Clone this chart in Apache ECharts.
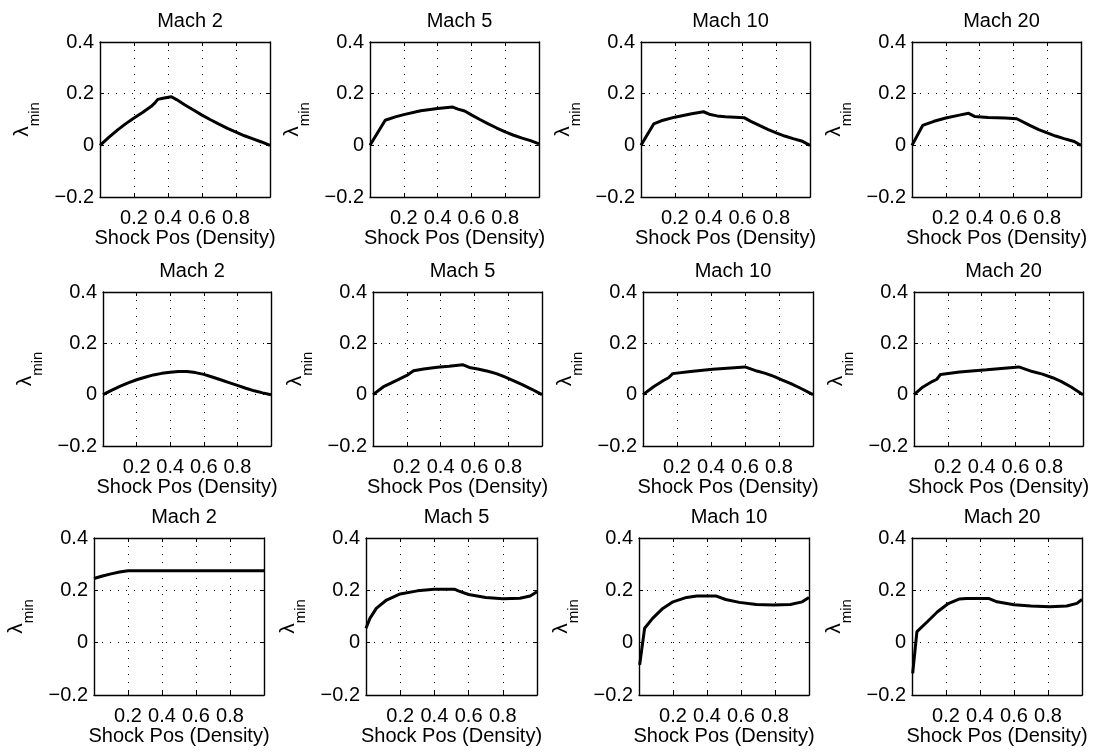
<!DOCTYPE html>
<html><head><meta charset="utf-8">
<script src="https://cdn.jsdelivr.net/npm/echarts@6/dist/echarts.min.js"></script>
<style>html,body{margin:0;padding:0;background:#fff}#c{width:1098px;height:753px}</style>
</head><body><div id="c"></div>
<script>
// ---- data ----
const machTitles = ['Mach 2', 'Mach 5', 'Mach 10', 'Mach 20'];
const xTickValues = [0.2, 0.4, 0.6, 0.8];
const yTickValues = [-0.2, 0, 0.2, 0.4];
const xAxisTitle = 'Shock Pos (Density)';

// Row 1
const r1m2x = [0, 0.05, 0.1, 0.15, 0.2, 0.25, 0.3, 0.32, 0.34, 0.37, 0.42, 0.45, 0.5, 0.55, 0.6, 0.65, 0.7, 0.75, 0.8, 0.85, 0.9, 0.95, 1.0];
const r1m2y = [0, 0.03, 0.058, 0.083, 0.106, 0.127, 0.15, 0.162, 0.178, 0.182, 0.188, 0.177, 0.156, 0.137, 0.117, 0.099, 0.082, 0.066, 0.051, 0.037, 0.025, 0.013, 0.0];
const r1m5x = [0, 0.09, 0.15, 0.2, 0.3, 0.4, 0.49, 0.52, 0.56, 0.6, 0.65, 0.7, 0.75, 0.8, 0.85, 0.9, 0.95, 1.0];
const r1m5y = [0, 0.097, 0.11, 0.119, 0.134, 0.143, 0.148, 0.14, 0.133, 0.118, 0.1, 0.083, 0.067, 0.052, 0.039, 0.028, 0.018, 0.006];
const r1m10x = [0, 0.075, 0.12, 0.2, 0.3, 0.37, 0.41, 0.45, 0.5, 0.61, 0.65, 0.7, 0.75, 0.8, 0.85, 0.9, 0.95, 1.0];
const r1m10y = [0, 0.083, 0.095, 0.109, 0.122, 0.13, 0.119, 0.114, 0.111, 0.107, 0.093, 0.077, 0.062, 0.048, 0.036, 0.026, 0.017, 0.0];
const r1m20x = [0, 0.063, 0.13, 0.2, 0.28, 0.335, 0.37, 0.45, 0.55, 0.62, 0.7, 0.75, 0.8, 0.85, 0.9, 0.96, 1.0];
const r1m20y = [0, 0.077, 0.093, 0.106, 0.117, 0.124, 0.112, 0.108, 0.106, 0.103, 0.076, 0.061, 0.048, 0.036, 0.026, 0.015, 0.0];

// Row 2
const r2m2x = [0, 0.05, 0.1, 0.15, 0.2, 0.25, 0.3, 0.35, 0.4, 0.45, 0.5, 0.55, 0.6, 0.65, 0.7, 0.75, 0.8, 0.85, 0.9, 0.95, 1.0];
const r2m2y = [0, 0.017, 0.032, 0.046, 0.058, 0.068, 0.077, 0.083, 0.087, 0.09, 0.09, 0.086, 0.079, 0.069, 0.058, 0.047, 0.036, 0.025, 0.015, 0.007, 0];
const r2m5x = [0, 0.06, 0.14, 0.2, 0.24, 0.3, 0.38, 0.45, 0.53, 0.57, 0.62, 0.68, 0.73, 0.78, 0.83, 0.88, 0.94, 1.0];
const r2m5y = [0, 0.03, 0.056, 0.075, 0.093, 0.1, 0.107, 0.111, 0.117, 0.106, 0.1, 0.091, 0.082, 0.069, 0.055, 0.04, 0.021, 0];
const r2m10x = [0, 0.06, 0.12, 0.15, 0.175, 0.28, 0.41, 0.6, 0.67, 0.72, 0.77, 0.82, 0.87, 0.93, 1.0];
const r2m10y = [0, 0.03, 0.055, 0.066, 0.082, 0.09, 0.099, 0.108, 0.092, 0.083, 0.071, 0.057, 0.043, 0.024, 0];
const r2m20x = [0, 0.053, 0.11, 0.135, 0.157, 0.27, 0.43, 0.62, 0.7, 0.76, 0.82, 0.87, 0.93, 1.0];
const r2m20y = [0, 0.03, 0.052, 0.06, 0.079, 0.088, 0.097, 0.108, 0.09, 0.08, 0.066, 0.052, 0.03, 0];

// Row 3
const r3m2x = [0, 0.05, 0.1, 0.15, 0.2, 0.4, 0.6, 0.8, 1.0];
const r3m2y = [0.245, 0.255, 0.263, 0.27, 0.275, 0.275, 0.275, 0.275, 0.275];
const r3m5x = [0, 0.023, 0.06, 0.12, 0.2, 0.3, 0.4, 0.52, 0.54, 0.6, 0.7, 0.8, 0.9, 0.96, 1.0];
const r3m5y = [0.055, 0.093, 0.131, 0.163, 0.186, 0.198, 0.204, 0.204, 0.198, 0.184, 0.173, 0.168, 0.17, 0.178, 0.195];
const r3m10x = [0.004, 0.033, 0.08, 0.14, 0.2, 0.28, 0.34, 0.455, 0.51, 0.59, 0.69, 0.79, 0.89, 0.96, 1.0];
const r3m10y = [-0.085, 0.055, 0.093, 0.131, 0.156, 0.173, 0.178, 0.178, 0.165, 0.154, 0.146, 0.144, 0.146, 0.156, 0.173];
const r3m20x = [0.004, 0.029, 0.09, 0.15, 0.21, 0.28, 0.32, 0.45, 0.5, 0.6, 0.7, 0.81, 0.91, 0.97, 1.0];
const r3m20y = [-0.117, 0.042, 0.08, 0.118, 0.148, 0.167, 0.169, 0.169, 0.156, 0.145, 0.14, 0.137, 0.14, 0.15, 0.165];

const panelData = [
  [r1m2x, r1m2y], [r1m5x, r1m5y], [r1m10x, r1m10y], [r1m20x, r1m20y],
  [r2m2x, r2m2y], [r2m5x, r2m5y], [r2m10x, r2m10y], [r2m20x, r2m20y],
  [r3m2x, r3m2y], [r3m5x, r3m5y], [r3m10x, r3m10y], [r3m20x, r3m20y]
];

// ---- layout (pixels) ----
const rowTop = [42, 292, 538];
const rowBottom = [197, 446, 695];
const colLeft = [[100, 370, 641, 912], [103, 373, 643, 914], [94, 366, 639, 912]];
const colRight = [[270, 539, 810, 1081], [271, 542, 813, 1083], [264, 537, 809, 1082]];

const FONT = "'Liberation Sans', Helvetica, Arial, sans-serif";
const FS = 20;
const AXIS_LINE = { show: true, onZero: false, lineStyle: { color: '#000', width: 1.4 } };
const GRID_LINE = { show: true, lineStyle: { color: '#000', type: [1, 7], width: 1 } };
const TICK = { show: true, inside: true, length: 4, lineStyle: { color: '#000' } };

const grids = [], xAxes = [], yAxes = [], xTop = [], yRight = [], series = [], titles = [];
for (let r = 0; r < 3; r++) {
  for (let c = 0; c < 4; c++) {
    const i = r * 4 + c;
    const left = colLeft[r][c], right = colRight[r][c];
    const top = rowTop[r], bottom = rowBottom[r];
    grids.push({ left: left, top: top, width: right - left, height: bottom - top, containLabel: false });
    xAxes.push({
      type: 'value', gridIndex: i, position: 'bottom', min: 0, max: 1, interval: 0.2,
      name: xAxisTitle, nameLocation: 'middle', nameGap: 31,
      nameTextStyle: { fontFamily: FONT, fontSize: FS, color: '#000' },
      axisLine: AXIS_LINE, axisTick: TICK,
      axisLabel: { fontFamily: FONT, fontSize: FS, color: '#000', margin: 11,
        formatter: v => (xTickValues.some(t => Math.abs(t - v) < 1e-6) ? v.toFixed(1) : '') },
      splitLine: GRID_LINE
    });
    yAxes.push({
      type: 'value', gridIndex: i, position: 'left', min: -0.2, max: 0.4, interval: 0.2,
      name: '{l|λ}{s|min}', nameLocation: 'middle', nameGap: 58,
      nameTextStyle: { fontFamily: FONT, color: '#000',
        rich: { l: { fontFamily: FONT, fontSize: 21, color: '#000', lineHeight: 30, verticalAlign: 'top' },
                s: { fontFamily: FONT, fontSize: 15, color: '#000', lineHeight: 30, verticalAlign: 'bottom' } } },
      axisLine: AXIS_LINE, axisTick: TICK,
      axisLabel: { fontFamily: FONT, fontSize: FS, color: '#000', margin: 6,
        formatter: v => {
          if (!yTickValues.some(t => Math.abs(t - v) < 1e-6)) return '';
          if (Math.abs(v) < 1e-9) return '0';
          return v < 0 ? '\u2212' + Math.abs(v).toFixed(1) : v.toFixed(1);
        } },
      splitLine: GRID_LINE
    });
    xTop.push({
      type: 'value', gridIndex: i, position: 'top', min: 0, max: 1, interval: 0.2,
      axisLine: AXIS_LINE, axisTick: TICK, axisLabel: { show: false }, splitLine: { show: false }
    });
    yRight.push({
      type: 'value', gridIndex: i, position: 'right', min: -0.2, max: 0.4, interval: 0.2,
      axisLine: AXIS_LINE, axisTick: TICK, axisLabel: { show: false }, splitLine: { show: false }
    });
    const xs = panelData[i][0], ys = panelData[i][1];
    series.push({
      type: 'line', xAxisIndex: i, yAxisIndex: i,
      data: xs.map((x, k) => [x, ys[k]]),
      showSymbol: false, symbol: 'none', smooth: false, clip: true,
      lineStyle: { color: '#000', width: 3 }, z: 5
    });
    titles.push({
      text: machTitles[c], left: (left + right) / 2, top: top - 36, textAlign: 'center',
      textStyle: { fontFamily: FONT, fontSize: FS, fontWeight: 'normal', color: '#000' }
    });
  }
}

const chart = echarts.init(document.getElementById('c'), null, { renderer: 'canvas' });
chart.setOption({
  animation: false,
  backgroundColor: '#fff',
  title: titles,
  grid: grids,
  xAxis: xAxes.concat(xTop),
  yAxis: yAxes.concat(yRight),
  series: series
});
</script>
</body></html>
